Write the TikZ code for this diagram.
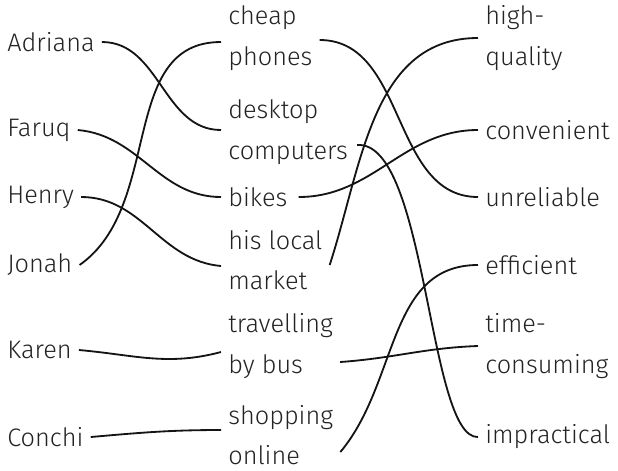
\documentclass[tikz,border=0pt]{standalone}
\usepackage{fontspec}
\setmainfont{Fira Sans}[UprightFont={* Light}]
\usetikzlibrary{calc}
\definecolor{textgray}{RGB}{35,35,35}
\definecolor{inkblack}{RGB}{20,20,20}

\begin{document}
\begin{tikzpicture}[
 x=0.025cm, y=-0.025cm,
 word/.style={anchor=west, align=left, inner xsep=5pt, inner ysep=0pt, text=textgray, font=\fontsize{18}{29}\selectfont},
 link/.style={line width=1.3pt, color=inkblack}
]
\useasboundingbox (0,0) rectangle (618,470);

% Column 1: people
\node[word] (adriana) at (0,42) {Adriana};
\node[word] (faruq) at (0,130) {Faruq};
\node[word] (henry) at (0,197) {Henry};
\node[word] (jonah) at (0,265) {Jonah};
\node[word] (karen) at (0,350) {Karen};
\node[word] (conchi) at (0,437) {Conchi};

% Column 2: things
\node[word] (phones) at (221,38) {cheap\\phones};
\node[word] (desktop) at (221,132) {desktop\\computers};
\node[word] (bikes) at (221,197) {bikes};
\node[word] (market) at (221,260) {his local\\market};
\node[word] (bus) at (221,346) {travelling\\by bus};
\node[word] (online) at (221,435) {shopping\\online};

% Column 3: adjectives
\node[word] (quality) at (478,38) {high-\\quality};
\node[word] (convenient) at (478,130) {convenient};
\node[word] (unreliable) at (478,197) {unreliable};
\node[word] (efficient) at (478,265) {efficient};
\node[word] (timecons) at (478,346) {time-\\consuming};
\node[word] (impractical) at (478,437) {impractical};

% Links: people to things
\draw[link] (adriana.east) to[out=0, in=180] ($(desktop.west)+(0,-2)$);
\draw[link] (faruq.east) to[out=-5, in=180] (bikes.west);
\draw[link] (henry.east) to[out=0, in=175] ($(market.west)+(0,6)$);
\draw[link] (jonah.east) to[out=35, in=180] ($(phones.west)+(0,4)$);
\draw[link] (karen.east) to[out=-5, in=195] ($(bus.west)+(0,6)$);
\draw[link] (conchi.east) to[out=5, in=180] ($(online.west)+(0,-5)$);

% Links: things to adjectives
\draw[link] ($(phones.east)+(0,2)$) to[out=0, in=180] (unreliable.west);
\draw[link] ($(desktop.east)+(2,13)$) .. controls +(70,-5) and +(-50,2) .. (impractical.west);
\draw[link] ($(bikes.east)+(4,0)$) to[out=0, in=180] (convenient.west);
\draw[link] ($(market.east)+(0,5)$) to[out=72, in=180] (quality.west);
\draw[link] ($(bus.east)+(0,16)$) to[out=4, in=182] (timecons.west);
\draw[link] ($(online.east)+(0,17)$) to[out=50, in=180] (efficient.west);

\end{tikzpicture}
\end{document}
